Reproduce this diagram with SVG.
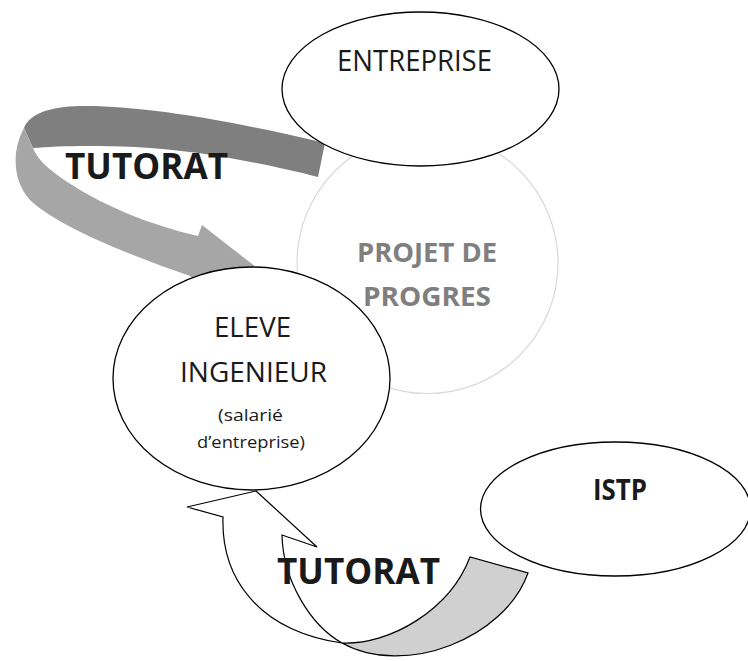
<svg xmlns="http://www.w3.org/2000/svg" width="748" height="661" viewBox="0 0 748 661">
<style>
.node{fill:#ffffff;stroke:#000000;stroke-width:1.3}
.faint{fill:#ffffff;stroke:#d9d9d9;stroke-width:1.2}
.t{font-family:"Open Sans","Liberation Sans",sans-serif;fill:#1a1a1a;text-anchor:middle}
.b{font-weight:bold}
.g{fill:#7f7f7f}
.outline{stroke:#000000;stroke-width:1.2;stroke-linejoin:miter}
</style>
<rect x="0" y="0" width="748" height="661" fill="#ffffff"/>

<g id="projet">
  <circle class="faint" cx="427.5" cy="263" r="130.5"/>
</g>

<g id="connectors">
  <g id="tutorat-entreprise">
    <path d="M325,143 C250,125 150,105 80,106 C50,107 30,113 24,128 L33,148 C55,146 90,145 135,147 C200,150 270,165 318,177 Z" fill="#7f7f7f"/>
    <path d="M24,128 C12,150 12,180 30,200 C60,228 130,255 190,276 L215,300 L270,278 L202,225 L198,236 C150,225 100,205 60,177 C45,166 37,158 33,148 Z" fill="#a6a6a6"/>
  </g>
  <g id="tutorat-istp">
    <path class="outline" d="M256,491 L187,507 L223,517 C221,575 255,630 342,643 C310,625 283,580 282,535 L317,547 Z" fill="#ffffff"/>
    <path class="outline" d="M342,643 C390,645 450,610 470,557 L528,573 C505,638 405,678 342,643 Z" fill="#d0d0d0"/>
  </g>
</g>

<g id="entreprise">
  <ellipse class="node" cx="420.5" cy="89" rx="138.5" ry="77"/>
  <text class="t" x="414.5" y="71" font-size="29" textLength="155" lengthAdjust="spacingAndGlyphs">ENTREPRISE</text>
</g>

<g id="eleve">
  <ellipse class="node" cx="251.5" cy="378.5" rx="138.5" ry="111.5"/>
  <text class="t" x="252.5" y="337" font-size="27" textLength="77" lengthAdjust="spacingAndGlyphs">ELEVE</text>
  <text class="t" x="253.5" y="382" font-size="27.5" textLength="147" lengthAdjust="spacingAndGlyphs">INGENIEUR</text>
  <text class="t" x="250.5" y="421" font-size="17" textLength="65" lengthAdjust="spacingAndGlyphs">(salarié</text>
  <text class="t" x="251" y="448" font-size="17" textLength="108" lengthAdjust="spacingAndGlyphs">d’entreprise)</text>
</g>

<g id="istp">
  <ellipse class="node" cx="615.5" cy="509" rx="135" ry="67"/>
  <text class="t b" x="620" y="500" font-size="28" textLength="54" lengthAdjust="spacingAndGlyphs">ISTP</text>
</g>

<g id="projet-label">
  <text class="t b g" x="427" y="262" font-size="26.5" textLength="140" lengthAdjust="spacingAndGlyphs">PROJET DE</text>
  <text class="t b g" x="427" y="306" font-size="26.5" textLength="128" lengthAdjust="spacingAndGlyphs">PROGRES</text>
</g>

<g id="connector-labels">
  <text class="t b" x="146.5" y="179" font-size="36" textLength="163" lengthAdjust="spacingAndGlyphs" fill="#000000">TUTORAT</text>
  <text class="t b" x="358.5" y="584" font-size="35" textLength="163" lengthAdjust="spacingAndGlyphs" fill="#000000">TUTORAT</text>
</g>
</svg>
